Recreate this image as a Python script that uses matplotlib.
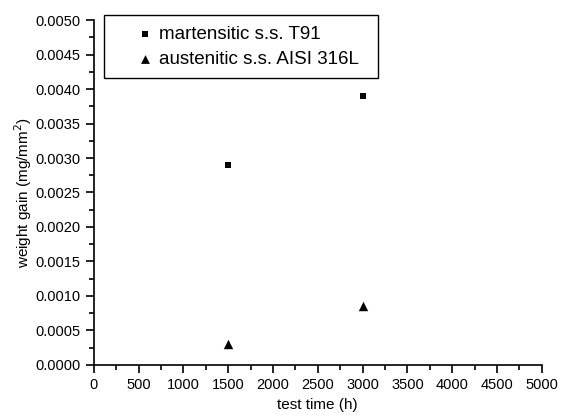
import matplotlib
matplotlib.use("Agg")
import matplotlib.pyplot as plt
from matplotlib.ticker import MultipleLocator, FormatStrFormatter
from matplotlib.legend_handler import HandlerPathCollection

plt.rcParams['font.family'] = ['Liberation Sans', 'DejaVu Sans']

# data
time_h = [1500, 3000]
t91_gain = [0.0029, 0.0039]
aisi316_gain = [0.0003, 0.000855]


class OffsetMarker(HandlerPathCollection):
    # put the legend marker near the right end of the handle area
    def get_xdata(self, legend, xdescent, ydescent, width, height, fontsize):
        x = [-xdescent + width * 0.83]
        return x, x


def main():
    fig = plt.figure(figsize=(5.62, 4.18), dpi=100)
    ax = fig.add_axes([0.167, 0.127, 0.797, 0.825])

    sq = ax.scatter(time_h, t91_gain, marker='s', s=19, c='black', linewidths=0,
                    label='martensitic s.s. T91')
    tr = ax.scatter(time_h, aisi316_gain, marker='^', s=46, c='black', linewidths=0,
                    label='austenitic s.s. AISI 316L')

    ax.set_xlim(0, 5000)
    ax.set_ylim(0, 0.005)
    ax.xaxis.set_major_locator(MultipleLocator(500))
    ax.xaxis.set_minor_locator(MultipleLocator(250))
    ax.yaxis.set_major_locator(MultipleLocator(0.0005))
    ax.yaxis.set_minor_locator(MultipleLocator(0.00025))
    ax.yaxis.set_major_formatter(FormatStrFormatter('%.4f'))

    ax.spines['top'].set_visible(False)
    ax.spines['right'].set_visible(False)
    ax.spines['left'].set_linewidth(1.2)
    ax.spines['bottom'].set_linewidth(1.2)
    ax.tick_params(which='major', direction='out', length=6, width=1.2, labelsize=10.5)
    ax.tick_params(which='minor', direction='out', length=3.5, width=1.2)

    ax.set_xlabel('test time (h)', fontsize=11)
    ax.set_ylabel('weight gain (mg/mm$^2$)', fontsize=11, labelpad=1)

    leg = ax.legend(loc='upper left', bbox_to_anchor=(0.0223, 0.5, 0.6116, 0.5145),
                    mode='expand', borderaxespad=0, fontsize=13.5,
                    fancybox=False, edgecolor='black', framealpha=1,
                    handlelength=2.0, handletextpad=0.4, borderpad=0.55,
                    labelspacing=0.42, scatterpoints=1,
                    handler_map={sq: OffsetMarker(), tr: OffsetMarker()})
    leg.get_frame().set_linewidth(1.0)
    leg.legend_handles[0].set_sizes([14])
    leg.legend_handles[1].set_sizes([40])

    fig.savefig('out.png', dpi=100)


if __name__ == "__main__":
    main()
